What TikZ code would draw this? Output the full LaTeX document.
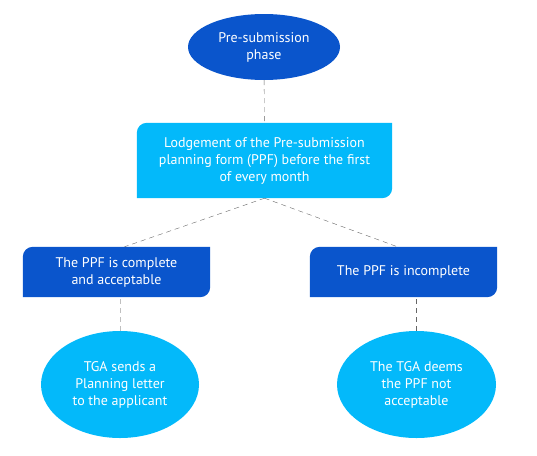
\documentclass[tikz,border=0pt]{standalone}
\usepackage{fontspec}
\setmainfont{PT Sans}
\usepackage{xcolor}
\usetikzlibrary{shapes.geometric}
\usetikzlibrary{backgrounds}
\definecolor{darkblue}{HTML}{0A55CC}
\definecolor{lightblue}{HTML}{03B9FA}
\tikzset{ phase/.style = {ellipse, fill=#1, text=white, align=center, inner sep=0pt, font=\fontsize{14}{17}\selectfont} }
\tikzset{ leaf/.style = {rectangle, text=white, align=center, inner sep=0pt, font=\fontsize{14}{17}\selectfont} }
\tikzset{ link/.style = {dashed, dash pattern=on 5pt off 4pt, draw=#1, thin} }
% background with rounded top left and bottom right corners
\newcommand{\leafback}[2]{\fill[#2] ([yshift=-10pt]#1.north west) arc[start angle=180, end angle=90, radius=10pt] -- (#1.north east) -- ([yshift=10pt]#1.south east) arc[start angle=0, end angle=-90, radius=10pt] -- (#1.south west) -- cycle;}

\begin{document}
\begin{tikzpicture}[x=1pt, y=-1pt]
        \useasboundingbox (0,0) rectangle (537,455);
        \node[phase=darkblue, minimum width=152pt, minimum height=66pt] (pre) at (264,47) {Pre-submission\\phase};
        \node[leaf, minimum width=255pt, minimum height=75pt] (lodge) at (264.5,160.5) {Lodgement of the Pre-submission\\planning form (PPF) before the first\\of every month};
        \node[leaf, minimum width=187pt, minimum height=50pt] (ok) at (116.5,272) {The PPF is complete\\and acceptable};
        \node[leaf, minimum width=187pt, minimum height=50pt] (nok) at (403.5,272) {The PPF is incomplete};
        \node[phase=lightblue, minimum width=158pt, minimum height=107pt] (letter) at (120,384.5) {TGA sends a\\Planning letter\\to the applicant};
        \node[phase=lightblue, minimum width=159pt, minimum height=107pt] (deem) at (416.5,384.5) {The TGA deems\\the PPF not\\acceptable};
        \begin{scope}[on background layer]
                \leafback{lodge}{lightblue}
                \leafback{ok}{darkblue}
                \leafback{nok}{darkblue}
        \end{scope}
        \draw[link=black!60] (pre) -- (lodge);
        \draw[link=black!60] (lodge.south) -- ([xshift=8pt]ok.north);
        \draw[link=black!60] (lodge.south) -- ([xshift=-6pt]nok.north);
        \draw[link=black!25] (letter.north) -- (letter.north |- ok.south);
        \draw[link=black!60] (deem.north) -- (deem.north |- nok.south);
\end{tikzpicture}
\end{document}
